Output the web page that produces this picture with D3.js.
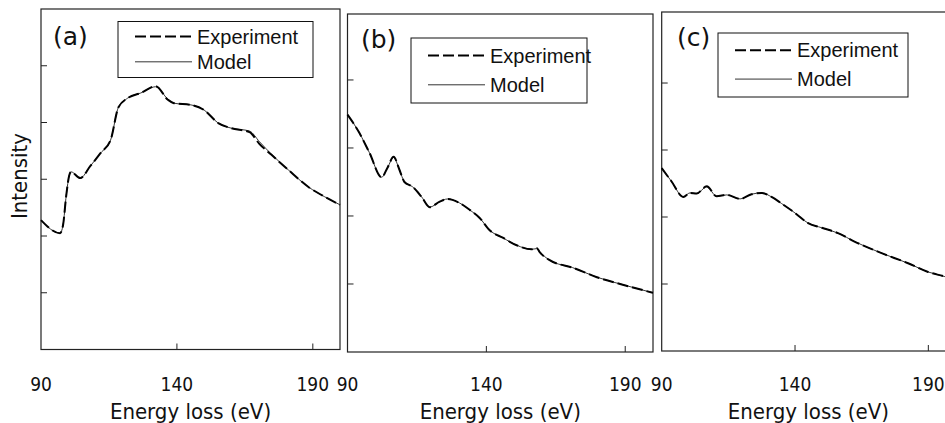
<!DOCTYPE html>
<meta charset="utf-8">
<style>
body { margin: 0; background: #fff; }
svg { display: block; }
.frame { fill: none; stroke: #222; stroke-width: 1.2px; }
.tick { stroke: #222; stroke-width: 1px; }
.ticklabel { font-family: "DejaVu Sans Condensed", "DejaVu Sans", sans-serif; font-stretch: condensed; font-size: 19px; fill: #111; }
.title { font-family: "DejaVu Sans Condensed", "DejaVu Sans", sans-serif; font-stretch: condensed; font-size: 22px; fill: #111; }
.plabel { font-family: "DejaVu Sans", sans-serif; font-size: 25px; fill: #111; }
.legend text { font-family: "Liberation Sans", Arial, sans-serif; font-size: 20px; fill: #111; }
.exp { fill: none; stroke: #000; stroke-width: 2px; stroke-dasharray: 11,4; }
.mod { fill: none; stroke: #333; stroke-width: 1px; }
</style>

<svg width="945" height="423"></svg>

<script src="https://d3js.org/d3.v7.min.js"></script>
<script>

// energy loss (eV) and intensity (arb. units)
var energyA = [90, 97.0, 98.1, 99.3, 100.4, 101.1, 104.4, 108.1, 111.9, 115.6, 118.5, 121.9, 126.7, 132.2, 136.7, 138.9, 145.2, 150.0, 155.2, 160.0, 166.7, 170.4, 174.8, 181.1, 188.5, 194.4, 200];
var expA    = [2.28, 2.05, 2.19, 2.72, 3.07, 3.13, 3.02, 3.23, 3.46, 3.69, 4.27, 4.43, 4.52, 4.64, 4.40, 4.34, 4.31, 4.22, 3.99, 3.90, 3.83, 3.62, 3.43, 3.16, 2.86, 2.69, 2.55];
var modelA  = [2.28, 2.05, 2.19, 2.72, 3.07, 3.13, 3.02, 3.23, 3.46, 3.69, 4.27, 4.43, 4.52, 4.63, 4.41, 4.34, 4.31, 4.22, 3.99, 3.90, 3.85, 3.66, 3.44, 3.16, 2.86, 2.69, 2.55];

var energyB = [90, 94.3, 97.9, 102.3, 104.4, 106.6, 108.7, 110.5, 113.4, 116.7, 119.6, 123.2, 126.0, 130.4, 134.0, 137.6, 141.2, 145.9, 150.9, 156.3, 158.1, 159.2, 162.8, 171.1, 179.8, 189.1, 200];
var expB    = [3.49, 3.22, 2.93, 2.57, 2.71, 2.87, 2.68, 2.50, 2.43, 2.28, 2.13, 2.21, 2.25, 2.19, 2.09, 1.97, 1.79, 1.68, 1.57, 1.51, 1.53, 1.47, 1.35, 1.24, 1.10, 0.99, 0.87];
var modelB  = [3.49, 3.22, 2.93, 2.57, 2.71, 2.86, 2.68, 2.50, 2.43, 2.28, 2.13, 2.21, 2.25, 2.19, 2.09, 1.97, 1.79, 1.68, 1.57, 1.51, 1.52, 1.47, 1.35, 1.24, 1.10, 0.99, 0.87];

var energyC = [90, 93.7, 98.1, 100.6, 103.1, 106.9, 110.6, 114.4, 119.4, 123.7, 127.5, 131.2, 135.0, 140.0, 144.9, 150.0, 156.1, 162.5, 172.5, 182.4, 189.9, 196.2, 200];
var expC    = [2.73, 2.53, 2.30, 2.36, 2.35, 2.46, 2.31, 2.33, 2.27, 2.34, 2.36, 2.30, 2.20, 2.06, 1.91, 1.84, 1.76, 1.63, 1.46, 1.31, 1.18, 1.11, 1.06];
var modelC  = [2.73, 2.53, 2.30, 2.36, 2.35, 2.45, 2.31, 2.33, 2.27, 2.34, 2.36, 2.30, 2.20, 2.06, 1.91, 1.84, 1.76, 1.63, 1.46, 1.31, 1.18, 1.11, 1.06];

var panelNames = ["(a)", "(b)", "(c)"];
var xTicks = [90, 140, 190];
var seriesNames = ["Experiment", "Model"];

var svg = d3.select("svg");

// layout of each panel, in pixels
var panels = [
  { name: panelNames[0], e: energyA, exp: expA, mod: modelA, yMax: 6.0, yTicks: [1, 2, 3, 4, 5],
    left: 41, right: 340, top: 9, bottom: 349.5, legend: [118, 21.5, 195, 56], lab: [53, 45] },
  { name: panelNames[1], e: energyB, exp: expB, mod: modelB, yMax: 4.97, yTicks: [1, 2, 3, 4],
    left: 347.5, right: 653, top: 14, bottom: 352, legend: [411, 38, 176, 65], lab: [361, 48] },
  { name: panelNames[2], e: energyC, exp: expC, mod: modelC, yMax: 5.06, yTicks: [1, 2, 3, 4],
    left: 661.7, right: 955, top: 12, bottom: 351, legend: [718, 33, 190, 64], lab: [677, 46] }
];

panels.forEach(function(p) {
  var x = d3.scaleLinear().domain([90, 200]).range([p.left, p.right]);
  var y = d3.scaleLinear().domain([0, p.yMax]).range([p.bottom, p.top]);
  var g = svg.append("g");

  g.append("rect").attr("class", "frame")
    .attr("x", p.left).attr("y", p.top)
    .attr("width", p.right - p.left).attr("height", p.bottom - p.top);

  // inward ticks
  g.selectAll(".ytick").data(p.yTicks).enter().append("line")
    .attr("class", "tick")
    .attr("x1", p.left).attr("x2", p.left + 6)
    .attr("y1", function(d) { return y(d); }).attr("y2", function(d) { return y(d); });

  g.selectAll(".xtick").data(xTicks.slice(1)).enter().append("line")
    .attr("class", "tick")
    .attr("x1", function(d) { return x(d); }).attr("x2", function(d) { return x(d); })
    .attr("y1", p.bottom).attr("y2", p.bottom - 6);

  g.selectAll(".xlab").data(xTicks).enter().append("text")
    .attr("class", "ticklabel")
    .attr("x", function(d) { return x(d); })
    .attr("y", 391)
    .attr("text-anchor", "middle")
    .text(function(d) { return d; });

  g.append("text").attr("class", "title")
    .attr("x", (p.left + p.right) / 2).attr("y", 419)
    .attr("text-anchor", "middle")
    .text("Energy loss (eV)");

  var line = d3.line()
    .x(function(d) { return x(d[0]); })
    .y(function(d) { return y(d[1]); })
    .curve(d3.curveMonotoneX);

  g.append("path").attr("class", "mod")
    .attr("d", line(d3.zip(p.e, p.mod)));
  g.append("path").attr("class", "exp")
    .attr("d", line(d3.zip(p.e, p.exp)));

  g.append("text").attr("class", "plabel")
    .attr("x", p.lab[0]).attr("y", p.lab[1])
    .text(p.name);

  // legend box
  var L = p.legend;
  var lg = g.append("g").attr("class", "legend");
  lg.append("rect")
    .attr("x", L[0]).attr("y", L[1]).attr("width", L[2]).attr("height", L[3])
    .attr("fill", "#fff").attr("stroke", "#111").attr("stroke-width", 1);
  var rowY = [L[1] + L[3] * 0.27, L[1] + L[3] * 0.72];
  lg.append("line").attr("class", "exp")
    .attr("x1", L[0] + 17).attr("x2", L[0] + 74)
    .attr("y1", rowY[0]).attr("y2", rowY[0]);
  lg.append("line").attr("class", "mod")
    .attr("x1", L[0] + 17).attr("x2", L[0] + 74)
    .attr("y1", rowY[1]).attr("y2", rowY[1]);
  lg.selectAll("text").data(seriesNames).enter().append("text")
    .attr("x", L[0] + 79)
    .attr("y", function(d, i) { return rowY[i] + 7; })
    .text(function(d) { return d; });
});

svg.append("text").attr("class", "title")
  .attr("transform", "translate(27,176) rotate(-90)")
  .attr("text-anchor", "middle")
  .text("Intensity");

</script>
